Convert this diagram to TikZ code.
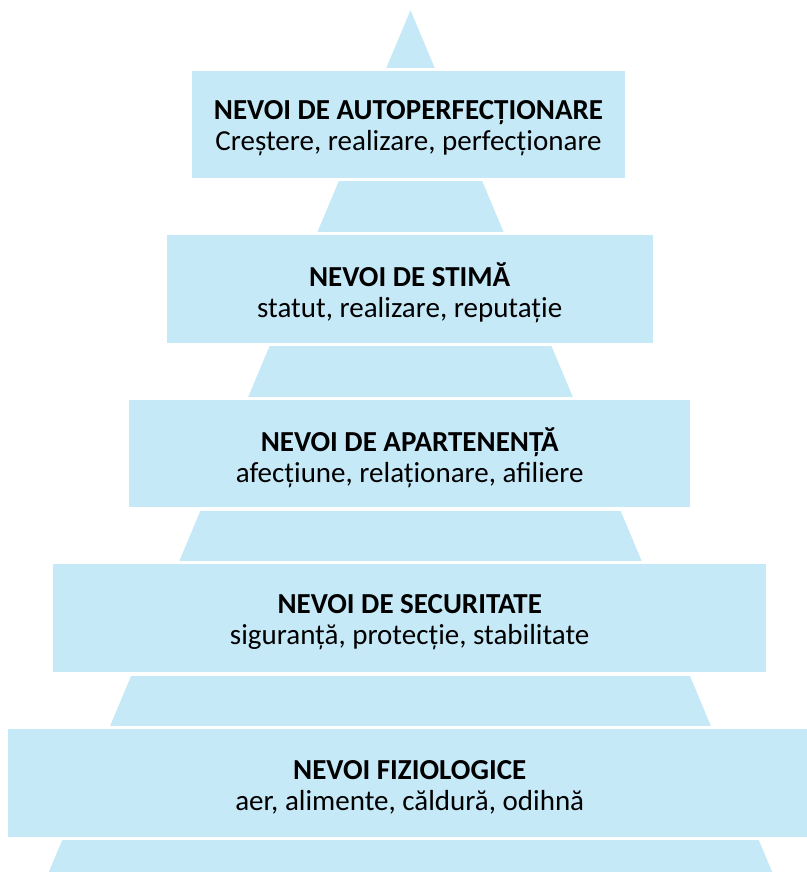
\documentclass[tikz,border=0pt]{standalone}
\usepackage{fontspec}
\setmainfont{Carlito}
\definecolor{levelblue}{RGB}{198,233,248}

\begin{document}
\begin{tikzpicture}[x=1pt,y=-1pt,
        level/.style={fill=levelblue,draw=white,line width=3.3pt,inner sep=0pt},
        leveltext/.style={align=center,inner sep=0pt,font=\fontsize{29}{31}\selectfont}]
        \useasboundingbox (0,0) rectangle (806,872);

        % pyramid behind the levels
        \coordinate (apex) at (410.5,10.2);
        \coordinate (baseL) at (48.8,872);
        \coordinate (baseR) at (772.2,872);
        \fill[levelblue] (apex)--(baseL)--(baseR)--cycle;

        % levels
        \foreach \i/\x/\y/\w/\h/\title/\items in {
            1/408.5/124.5/436.3/110.3/{NEVOI DE AUTOPERFECȚIONARE}/{Creștere, realizare, perfecționare},
            2/409.7/288.9/489.3/111/{NEVOI DE STIMĂ}/{statut, realizare, reputație},
            3/409.7/453.7/564.6/110.6/{NEVOI DE APARTENENȚĂ}/{afecțiune, relaționare, afiliere},
            4/409.7/618.3/716/111.3/{NEVOI DE SECURITATE}/{siguranță, protecție, stabilitate},
            5/409.7/782.9/806.3/111/{NEVOI FIZIOLOGICE}/{aer, alimente, căldură, odihnă}}{
            \node[level,minimum width=\w,minimum height=\h] (L\i) at (\x,\y) {};
            \node[leveltext] (T\i) at ([yshift=-4pt]L\i.center) {\textbf{\title}\\\items};
        }
    \end{tikzpicture}
\end{document}
